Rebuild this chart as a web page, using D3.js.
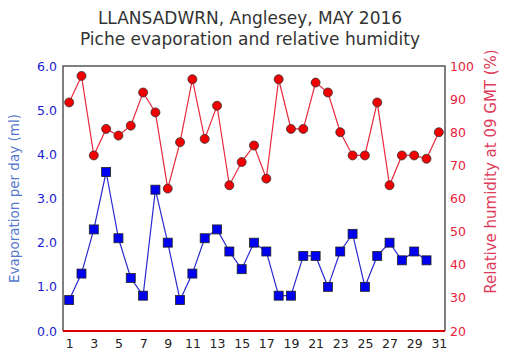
<!DOCTYPE html>
<html><head><meta charset="utf-8">
<script src="https://cdn.jsdelivr.net/npm/d3@7"></script>
<style>body{margin:0;background:#fff}svg{display:block}</style>
</head><body><svg id="c" width="517" height="360"></svg>
<script>
const days = d3.range(1, 32);
const evaporation = [0.7,1.3,2.3,3.6,2.1,1.2,0.8,3.2,2.0,0.7,1.3,2.1,2.3,1.8,1.4,2.0,1.8,0.8,0.8,1.7,1.7,1.0,1.8,2.2,1.0,1.7,2.0,1.6,1.8,1.6,null];
const humidity = [89,97,73,81,79,82,92,86,63,77,96,78,88,64,71,76,66,96,81,81,95,92,80,73,73,89,64,73,73,72,80];
const xTicks = [1,3,5,7,9,11,13,15,17,19,21,23,25,27,29,31];
const evapTicks = [0,1,2,3,4,5,6];
const rhTicks = [20,30,40,50,60,70,80,90,100];
const titleLines = ["LLANSADWRN, Anglesey, MAY 2016","Piche evaporation and relative humidity"];

const svg = d3.select("#c");
const L=63, R=445, T=66, B=331;
const x = d3.scaleLinear().domain([0.5,31.5]).range([L,R]);
const yE = d3.scaleLinear().domain([0,6]).range([B,T]);
const yH = d3.scaleLinear().domain([20,100]).range([B,T]);
const font = "DejaVu Sans, Verdana, sans-serif";

// title
svg.selectAll("text.title").data(titleLines).enter().append("text")
  .attr("x",250).attr("y",(d,i)=>24+i*21).attr("text-anchor","middle")
  .attr("font-family",font).attr("font-size",17).attr("fill","#333")
  .text(d=>d);

// frame
svg.append("path").attr("d",`M${L},${B}V${T}H${R}V${B}`).attr("fill","none").attr("stroke","#555").attr("stroke-width",1.5);

// axes
const axL = svg.append("g").attr("transform",`translate(${L},0)`)
  .call(d3.axisLeft(yE).tickValues(evapTicks).tickFormat(d3.format(".1f")).tickSize(0).tickPadding(6));
axL.select(".domain").remove();
axL.selectAll("text").attr("fill","#1a1ad0").attr("font-family",font).attr("font-size",12.5);

const axR = svg.append("g").attr("transform",`translate(${R},0)`)
  .call(d3.axisRight(yH).tickValues(rhTicks).tickSize(0).tickPadding(5));
axR.select(".domain").remove();
axR.selectAll("text").attr("fill","#e8203a").attr("font-family",font).attr("font-size",12.5);

const axB = svg.append("g").attr("transform",`translate(0,${B})`)
  .call(d3.axisBottom(x).tickValues(xTicks).tickSize(0).tickPadding(8));
axB.select(".domain").remove();
axB.selectAll("text").attr("fill","#222").attr("font-family",font).attr("font-size",12.5);

svg.append("line").attr("x1",L).attr("x2",R).attr("y1",B).attr("y2",B).attr("stroke","#e00000").attr("stroke-width",2);

// axis titles
svg.append("text").attr("transform",`translate(19,${(T+B)/2}) rotate(-90)`).attr("text-anchor","middle")
  .attr("font-family",font).attr("font-size",13.5).attr("fill","#5577cc").text("Evaporation per day (ml)");
svg.append("text").attr("transform",`translate(496,${(T+B)/2-27}) rotate(-90)`).attr("text-anchor","middle")
  .attr("font-family",font).attr("font-size",15).attr("fill","#e03a5a").text("Relative humidity at 09 GMT (%)");

// humidity line
const hData = days.map((d,i)=>({d, v:humidity[i]}));
svg.append("path").datum(hData)
  .attr("d",d3.line().x(p=>x(p.d)).y(p=>yH(p.v)))
  .attr("fill","none").attr("stroke","#e8283c").attr("stroke-width",1.2);
svg.selectAll("circle.h").data(hData).enter().append("circle")
  .attr("cx",p=>x(p.d)).attr("cy",p=>yH(p.v)).attr("r",4.5)
  .attr("fill","#f00000").attr("stroke","#333").attr("stroke-width",0.8);

// evaporation line
const eData = days.map((d,i)=>({d, v:evaporation[i]})).filter(p=>p.v!=null);
svg.append("path").datum(eData)
  .attr("d",d3.line().x(p=>x(p.d)).y(p=>yE(p.v)))
  .attr("fill","none").attr("stroke","#2a2ad0").attr("stroke-width",1.2);
svg.selectAll("rect.e").data(eData).enter().append("rect")
  .attr("x",p=>x(p.d)-4.5).attr("y",p=>yE(p.v)-4.5).attr("width",9).attr("height",9)
  .attr("fill","#0000f0").attr("stroke","#222").attr("stroke-width",0.8);
</script></body></html>
